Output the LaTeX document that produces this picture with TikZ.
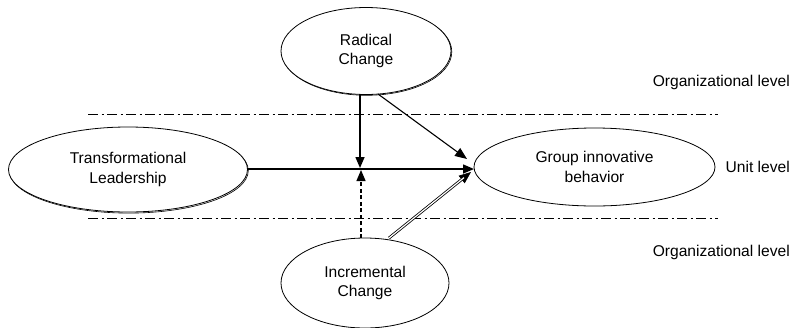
\documentclass[tikz,border=0pt]{standalone}
\usepackage{fontspec}
\setmainfont{Liberation Sans}
\usetikzlibrary{shapes.geometric,arrows.meta}
\begin{document}
\begin{tikzpicture}[x=1pt,y=-1pt,
  oval/.style={ellipse, draw, line width=0.8pt, fill=white, inner sep=0pt, align=center,
    font=\fontsize{15.6}{19.5}\selectfont},
  shadowoval/.style={ellipse, draw, line width=0.6pt, inner sep=0pt},
  lbl/.style={font=\fontsize{15.6}{19.5}\selectfont, inner sep=0pt},
  levelline/.style={line width=0.8pt, dash pattern=on 10pt off 3.5pt on 2pt off 3.5pt},
  arr/.style={line width=1.5pt, -{Triangle[length=11pt,width=9pt]}},
  thinarr/.style={line width=1.1pt, -{Triangle[length=12pt,width=9.5pt]}}
]
\useasboundingbox (0,0) rectangle (792,327);
% level lines
\coordinate (l1a) at (88,114); \coordinate (l1b) at (718,114);
\coordinate (l2a) at (88,218); \coordinate (l2b) at (718,218);
\draw[levelline] (l1a) -- (l1b);
\draw[levelline] (l2a) -- (l2b);
% shadow ellipses
\node[shadowoval, minimum width=170pt, minimum height=87pt] (rcs) at (366.8,51.8) {};
\node[shadowoval, minimum width=239pt, minimum height=85pt] (tls) at (128.8,170.6) {};
% nodes
\node[oval, minimum width=170pt, minimum height=87pt] (rc) at (366,51) {Radical\\Change};
\node[oval, minimum width=239pt, minimum height=85pt] (tl) at (128,169.5) {Transformational\\Leadership};
\node[oval, minimum width=241pt, minimum height=78pt] (gib) at (594.5,167) {Group innovative\\behavior};
\node[oval, minimum width=168pt, minimum height=90pt] (ic) at (365,283) {Incremental\\Change};
% level labels
\node[lbl, anchor=east] (org1) at (790,82) {Organizational level};
\node[lbl, anchor=east] (unit) at (790,167) {Unit level};
\node[lbl, anchor=east] (org2) at (790,252) {Organizational level};
% connectors
\coordinate (tlr) at (247,169);
\coordinate (gibl) at (474,169);
\coordinate (rcb) at (360,94);
\coordinate (midtop) at (360,168);
\coordinate (icb) at (361,238);
\coordinate (midbot) at (361,170);
\coordinate (rcd) at (378,94);
\coordinate (gibu) at (467,159);
\coordinate (icd) at (389,238);
\coordinate (gibd) at (471,172);
\draw[arr] (tlr) -- (gibl);
\draw[arr] (rcb) -- (midtop);
\draw[arr, dash pattern=on 4pt off 2.5pt, line width=1.3pt] (icb) -- (midbot);
\draw[thinarr] (rcd) -- (gibu);
\draw[thinarr, line width=0.6pt] (icd) -- (gibd);
\draw[double, line width=0.8pt, double distance=1.2pt, shorten >=9pt] (icd) -- (gibd);
\end{tikzpicture}
\end{document}
